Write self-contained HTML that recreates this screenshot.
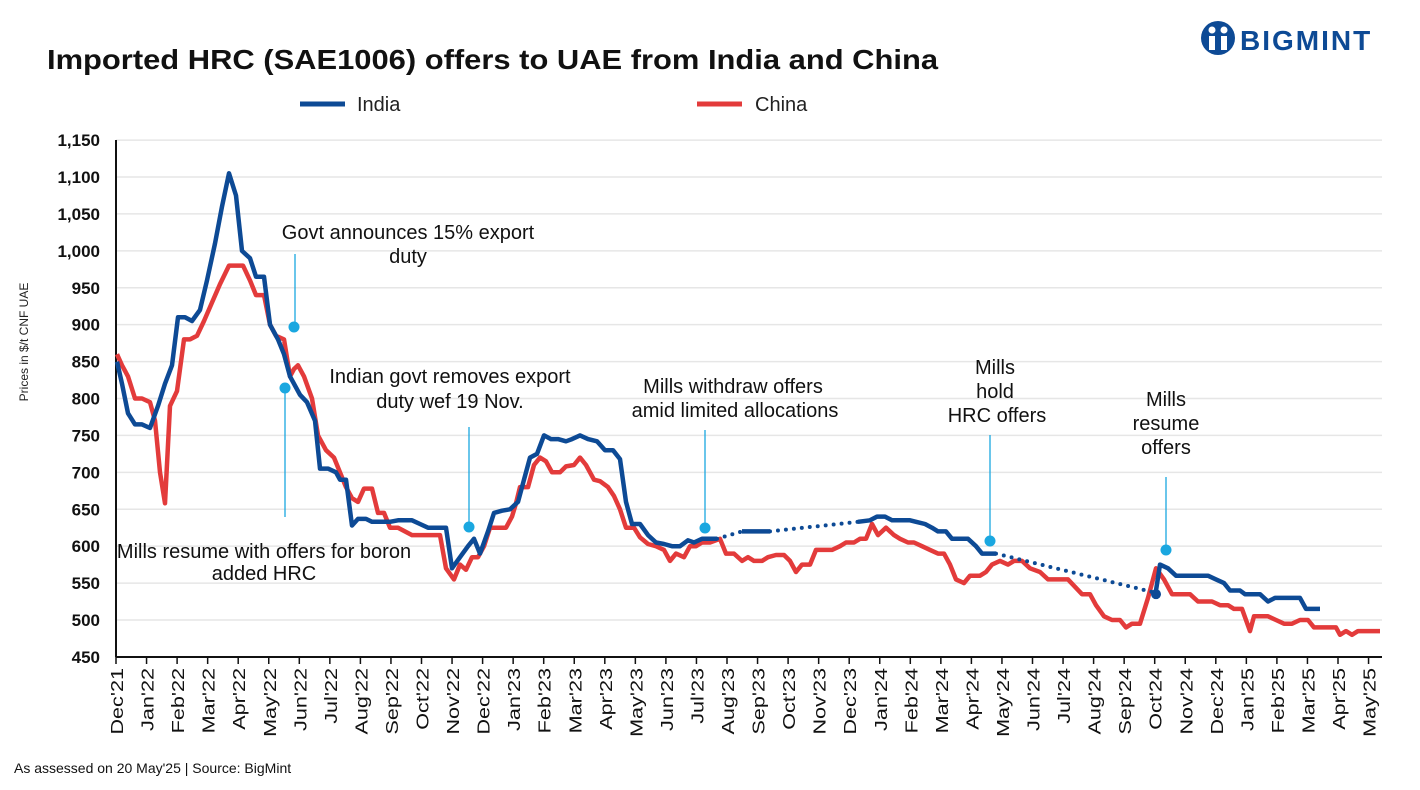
<!DOCTYPE html>
<html><head><meta charset="utf-8"><style>
body{margin:0;background:#fff;font-family:"Liberation Sans",sans-serif}
</style></head><body>
<svg id="s" width="1420" height="785" xmlns="http://www.w3.org/2000/svg" font-family="Liberation Sans, sans-serif">
<rect width="1420" height="785" fill="#fff"/>
<text x="47" y="69" font-size="28" font-weight="bold" fill="#111" textLength="891" lengthAdjust="spacingAndGlyphs">Imported HRC (SAE1006) offers to UAE from India and China</text>
<g>
<circle cx="1218" cy="38" r="17" fill="#0d4a95"/>
<circle cx="1212" cy="30" r="3.5" fill="#fff"/><circle cx="1224" cy="30" r="3.5" fill="#fff"/>
<rect x="1209" y="36" width="6" height="14" fill="#fff"/><rect x="1221" y="36" width="6" height="14" fill="#fff"/>
<text x="1240" y="50" font-size="28" font-weight="bold" fill="#0d4a95" letter-spacing="2">BIGMINT</text>
</g>
<line x1="300" y1="104" x2="345" y2="104" stroke="#0d4a95" stroke-width="5"/>
<text x="357" y="111" font-size="20" fill="#222">India</text>
<line x1="697" y1="104" x2="742" y2="104" stroke="#e33b3b" stroke-width="5"/>
<text x="755" y="111" font-size="20" fill="#222">China</text>
<text transform="translate(28,342) rotate(-90)" font-size="12" text-anchor="middle" fill="#222">Prices in $/t CNF UAE</text>
<g id="grid"></g>
<line x1="116" y1="140" x2="116" y2="657" stroke="#111" stroke-width="2"/>
<line x1="116" y1="657" x2="1382" y2="657" stroke="#111" stroke-width="2"/>
<g id="xl"></g>
<g stroke="#1aa7e0" stroke-width="1.3">
<line x1="295" y1="254" x2="295" y2="327"/><line x1="285" y1="388" x2="285" y2="517"/>
<line x1="469" y1="427" x2="469" y2="527"/><line x1="705" y1="430" x2="705" y2="528"/>
<line x1="990" y1="435" x2="990" y2="541"/><line x1="1166" y1="477" x2="1166" y2="550"/>
</g>
<g fill="#1aa7e0"><circle cx="294" cy="327" r="5.5"/><circle cx="285" cy="388" r="5.5"/><circle cx="469" cy="527" r="5.5"/><circle cx="705" cy="528" r="5.5"/><circle cx="990" cy="541" r="5.5"/><circle cx="1166" cy="550" r="5.5"/></g>
<g font-size="20" fill="#111" text-anchor="middle">
<text x="408" y="239">Govt announces 15% export</text><text x="408" y="263">duty</text>
<text x="450" y="383">Indian govt removes export</text><text x="450" y="408">duty wef 19 Nov.</text>
<text x="264" y="558">Mills resume with offers for boron</text><text x="264" y="580">added HRC</text>
<text x="733" y="393">Mills withdraw offers</text><text x="735" y="417">amid limited allocations</text>
<text x="995" y="374">Mills</text><text x="995" y="398">hold</text><text x="997" y="422">HRC offers</text>
<text x="1166" y="406">Mills</text><text x="1166" y="430">resume</text><text x="1166" y="454">offers</text>
</g>
<g id="lines"></g>
<text x="14" y="773" font-size="14" fill="#111">As assessed on 20 May'25 | Source: BigMint</text>
</svg>
<script>
var NS="http://www.w3.org/2000/svg";
function Y(v){return 620+(500-v)*0.7383;}
function el(t,a,p,txt){var e=document.createElementNS(NS,t);for(var k in a)e.setAttribute(k,a[k]);if(txt)e.textContent=txt;document.getElementById(p).appendChild(e);return e;}
for(var v=450;v<=1150;v+=50){var y=Y(v);if(v>450)el("line",{x1:116,x2:1382,y1:y,y2:y,stroke:"#e6e6e6","stroke-width":1.5},"grid");
el("text",{x:100,y:y+6,"font-size":17,"font-weight":"bold","text-anchor":"end",fill:"#111"},"grid",v>=1000?(v/1000|0)+","+String(v%1000).padStart(3,"0"):String(v));}
var m=["Jan","Feb","Mar","Apr","May","Jun","Jul","Aug","Sep","Oct","Nov","Dec"];
for(var i=0;i<=41;i++){var x=116+30.55*i;var mi=(11+i)%12;var yr=21+Math.floor((11+i)/12);
el("line",{x1:x,x2:x,y1:657,y2:664,stroke:"#111","stroke-width":1.5},"xl");
el("text",{transform:"translate("+(x+7)+",668) rotate(-90) scale(1.2,1)","font-size":18,"text-anchor":"end",fill:"#111"},"xl",m[mi]+"'"+yr);}
function P(a){var s="";for(var i=0;i<a.length;i+=2)s+=(i?"L":"M")+a[i]+","+Y(a[i+1]).toFixed(1);return s;}
var china=[117,860,122,845,128,830,135,800,142,800,150,795,155,770,160,700,165,658,170,790,177,810,184,880,190,880,197,885,204,905,212,930,220,955,229,980,238,980,243,980,250,960,256,940,264,940,270,900,276,885,284,880,290,830,294,840,298,845,304,830,312,800,318,750,326,730,334,720,340,700,346,680,352,665,358,660,364,678,372,678,378,645,384,645,390,625,398,625,412,615,420,615,440,615,446,570,454,555,460,575,466,568,472,585,478,585,484,600,490,625,506,625,512,640,516,658,520,680,528,680,534,710,540,720,546,715,552,700,560,700,566,708,574,710,580,720,586,710,594,690,600,688,608,680,614,668,620,650,626,625,634,625,640,612,648,603,656,600,664,595,670,580,676,590,684,585,690,600,696,600,702,605,710,605,720,610,726,590,734,590,742,580,748,585,754,580,762,580,768,585,776,588,784,588,790,580,796,565,802,575,810,575,816,595,824,595,832,595,840,600,846,605,854,605,860,610,866,610,872,630,878,615,886,625,894,615,900,610,908,605,914,605,922,600,930,595,938,590,944,590,950,575,956,555,964,550,970,560,980,560,986,565,992,575,1000,580,1008,575,1014,580,1022,580,1030,570,1040,565,1048,555,1060,555,1068,555,1075,545,1082,535,1090,535,1096,520,1104,505,1112,500,1120,500,1126,490,1132,495,1140,495,1148,530,1156,570,1164,555,1172,535,1190,535,1198,525,1212,525,1220,520,1228,520,1234,515,1242,515,1250,485,1254,505,1268,505,1276,500,1284,495,1292,495,1300,500,1308,500,1314,490,1336,490,1340,480,1346,485,1352,480,1358,485,1380,485];
var india1=[117,850,122,820,128,780,135,765,142,765,150,760,158,790,165,820,172,845,178,910,185,910,192,905,200,920,207,960,215,1010,222,1060,229,1105,236,1075,242,1000,250,990,256,965,264,965,270,900,278,880,284,860,290,830,300,805,307,795,315,770,320,705,328,705,336,700,340,690,346,690,352,628,358,637,366,637,372,633,390,633,398,635,412,635,420,630,428,625,446,625,452,570,460,585,468,600,474,610,480,590,488,620,494,645,502,648,510,650,518,660,524,690,530,720,537,725,544,750,551,745,558,745,566,742,572,745,580,750,588,745,597,742,605,730,613,730,620,718,626,660,632,630,640,630,648,615,656,605,664,603,672,600,680,600,688,608,694,605,702,610,717,610];
var india2=[742,620,770,620],india3=[858,633,870,635,877,640,885,640,892,635,910,635,916,633,925,630,932,625,938,620,946,620,952,610,968,610,976,600,982,590,996,590];
var india4=[1156,540,1160,575,1168,570,1176,560,1208,560,1216,555,1224,550,1230,540,1240,540,1245,535,1260,535,1268,525,1275,530,1300,530,1306,515,1320,515];
el("path",{d:P(china),fill:"none",stroke:"#e33b3b","stroke-width":4.5,"stroke-linejoin":"round"},"lines");
var dots=[[717,610,742,620],[770,620,858,633],[996,590,1152,538]];
dots.forEach(function(d){el("path",{d:P(d),fill:"none",stroke:"#0d4a95","stroke-width":4,"stroke-dasharray":"0 8","stroke-linecap":"round"},"lines");});
[india1,india2,india3,india4].forEach(function(a){el("path",{d:P(a),fill:"none",stroke:"#0d4a95","stroke-width":4.5,"stroke-linejoin":"round"},"lines");});
el("circle",{cx:1156,cy:Y(535),r:5,fill:"#0d4a95"},"lines");
</script>
</body></html>
